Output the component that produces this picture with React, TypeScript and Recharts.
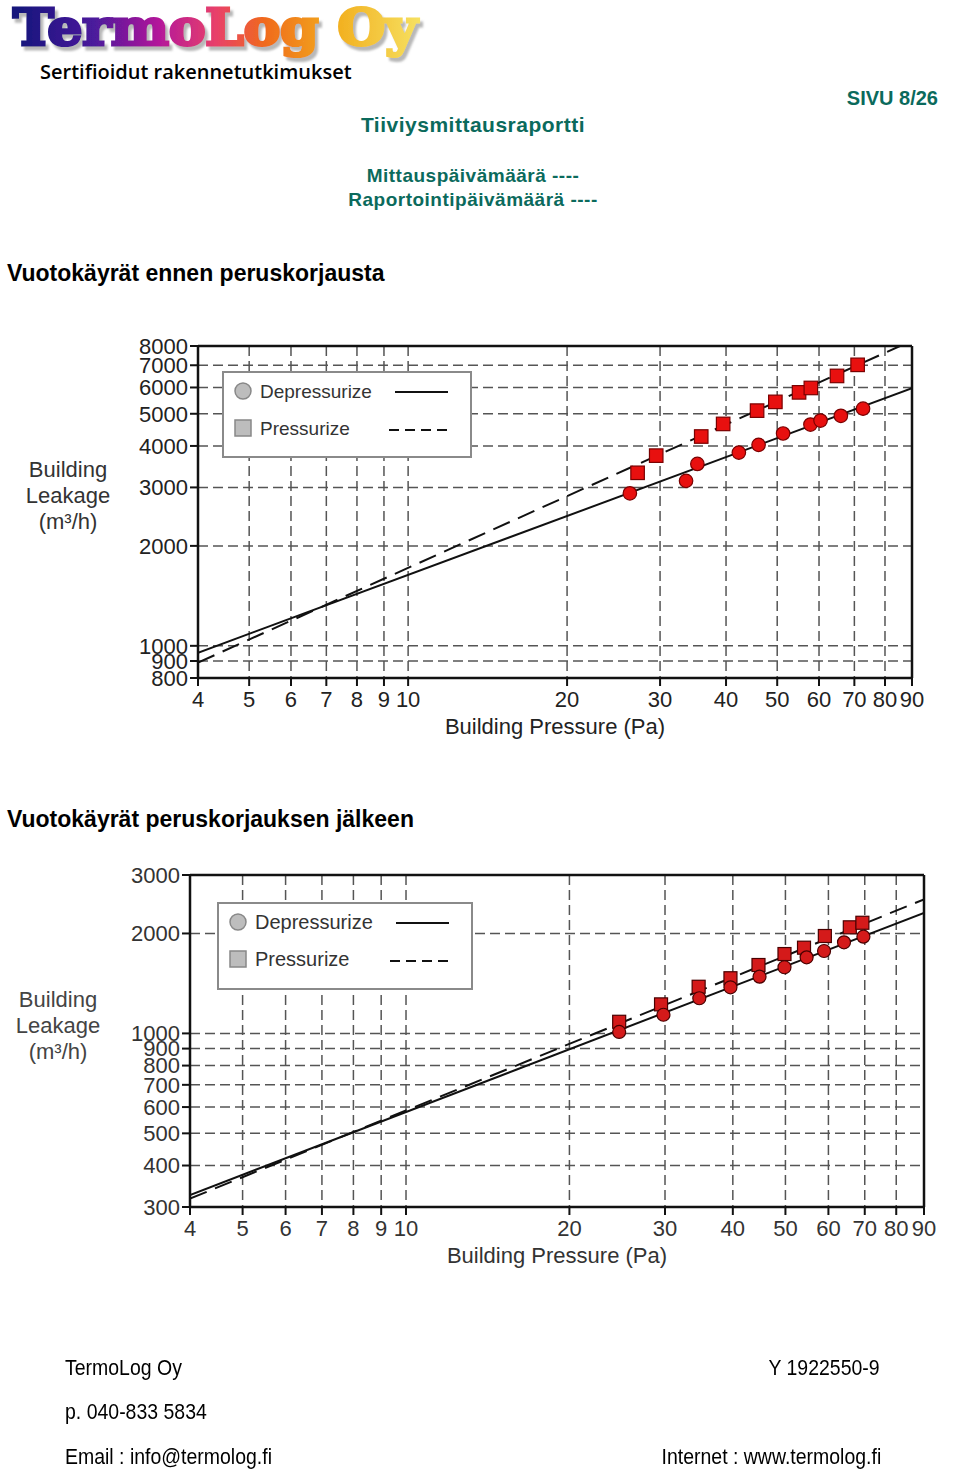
import React from "react"
import { ScatterChart, Scatter, XAxis, YAxis, CartesianGrid, ReferenceLine } from "recharts"

const FONT = "'Liberation Sans', Arial, sans-serif"
const TEAL = "#0b6a5c"

// x axis, both charts (Pa)
const pressureTicks = [4, 5, 6, 7, 8, 9, 10, 20, 30, 40, 50, 60, 70, 80, 90]

// chart 1: ennen peruskorjausta
const beforeFlowTicks = [800, 900, 1000, 2000, 3000, 4000, 5000, 6000, 7000, 8000]
const beforeDepPa = [26.3, 33.6, 35.3, 42.3, 46.1, 51.3, 57.8, 60.4, 66.0, 72.7]
const beforeDepFlow = [2880, 3140, 3530, 3820, 4030, 4360, 4640, 4770, 4930, 5180]
const beforePresPa = [27.2, 29.5, 35.9, 39.5, 45.8, 49.6, 55.0, 57.9, 64.9, 71.0]
const beforePresFlow = [3320, 3740, 4270, 4660, 5110, 5430, 5800, 5980, 6500, 7020]
const beforeDepFitPa = [4, 90]
const beforeDepFitFlow = [953, 5970]
const beforePresFitPa = [4, 85.4]
const beforePresFitFlow = [890, 8000]

// chart 2: peruskorjauksen jälkeen
const afterFlowTicks = [300, 400, 500, 600, 700, 800, 900, 1000, 2000, 3000]
const afterDepPa = [24.7, 29.8, 34.7, 39.6, 44.8, 49.8, 54.7, 58.9, 64.1, 69.6]
const afterDepFlow = [1010, 1138, 1276, 1377, 1482, 1582, 1695, 1771, 1881, 1956]
const afterPresPa = [24.7, 29.5, 34.6, 39.6, 44.6, 49.8, 54.1, 59.1, 65.7, 69.3]
const afterPresFlow = [1084, 1223, 1382, 1466, 1607, 1734, 1812, 1965, 2087, 2154]
const afterDepFitPa = [4, 90]
const afterDepFitFlow = [326, 2305]
const afterPresFitPa = [4, 90]
const afterPresFitFlow = [318, 2534]

const pts = (xs: number[], ys: number[]) => xs.map((x, i) => ({ x, y: ys[i] }))

function LeakChart({ top, marginLeft, marginRight, marginTop, marginBottom, yTicks, dep, pres, depFit, presFit, fill, edge, textColor, mark }: any) {
  const h = mark / 2
  const circle = (p: any) => <circle cx={p.cx} cy={p.cy} r={h} fill={fill} stroke={edge} strokeWidth={1.2} />
  const square = (p: any) => <rect x={p.cx - h} y={p.cy - h} width={mark} height={mark} fill={fill} stroke={edge} strokeWidth={1.2} />
  const noDot = () => <g />
  const yMin = yTicks[0]
  const yMax = yTicks[yTicks.length - 1]
  return (
    <div style={{ position: "absolute", left: 0, top, width: 960, height: 420 }}>
      <ScatterChart width={960} height={420} margin={{ top: marginTop, right: marginRight, bottom: marginBottom, left: marginLeft }}>
        <CartesianGrid stroke="#555" strokeWidth={1.5} strokeDasharray="10 5" />
        <XAxis
          dataKey="x" type="number" scale="log" domain={[4, 90]} ticks={pressureTicks} interval={0}
          allowDataOverflow height={60} tickSize={8} tickMargin={5}
          axisLine={{ stroke: "#111", strokeWidth: 2.5 }} tickLine={{ stroke: "#111", strokeWidth: 2 }}
          tick={{ fill: textColor, fontSize: 22, fontFamily: FONT }}
          label={{ value: "Building Pressure (Pa)", position: "insideBottom", offset: 4, fill: textColor, fontSize: 22, fontFamily: FONT }}
        />
        <YAxis
          dataKey="y" type="number" scale="log" domain={[yMin, yMax]} ticks={yTicks} interval={0}
          allowDataOverflow width={60} tickSize={8}
          axisLine={{ stroke: "#111", strokeWidth: 2.5 }} tickLine={{ stroke: "#111", strokeWidth: 2 }}
          tick={{ fill: textColor, fontSize: 22, fontFamily: FONT }}
        />
        <ReferenceLine x={90} stroke="#111" strokeWidth={2.5} />
        <ReferenceLine y={yMax} stroke="#111" strokeWidth={2.5} />
        <Scatter data={depFit} line={{ stroke: "#111", strokeWidth: 2 }} lineType="joint" shape={noDot} isAnimationActive={false} />
        <Scatter data={presFit} line={{ stroke: "#111", strokeWidth: 2, strokeDasharray: "18 9" }} lineType="joint" shape={noDot} isAnimationActive={false} />
        <Scatter data={pres} shape={square} isAnimationActive={false} />
        <Scatter data={dep} shape={circle} isAnimationActive={false} />
      </ScatterChart>
    </div>
  )
}

function Legend({ left, top, width, height, fontSize, textColor }: any) {
  return (
    <svg style={{ position: "absolute", left, top }} width={width} height={height}>
      <rect x={1} y={1} width={width - 2} height={height - 2} fill="#fff" stroke="#8a8a8a" strokeWidth={2} />
      <circle cx={21} cy={20} r={8} fill="#bdbdbd" stroke="#888" strokeWidth={1.5} />
      <text x={38} y={20} dominantBaseline="central" fontSize={fontSize} fontFamily={FONT} fill={textColor}>Depressurize</text>
      <line x1={width - 77} x2={width - 24} y1={21} y2={21} stroke="#111" strokeWidth={2} />
      <rect x={13} y={49} width={16} height={16} fill="#bdbdbd" stroke="#888" strokeWidth={1.5} />
      <text x={38} y={57} dominantBaseline="central" fontSize={fontSize} fontFamily={FONT} fill={textColor}>Pressurize</text>
      <line x1={width - 83} x2={width - 24} y1={59} y2={59} stroke="#111" strokeWidth={2} strokeDasharray="10 6" />
    </svg>
  )
}

function YTitle({ cx, top, color }: any) {
  return (
    <div style={{ position: "absolute", left: cx - 60, top, width: 120, textAlign: "center", fontSize: 22, lineHeight: "26px", fontFamily: FONT, color }}>
      Building<br />Leakage<br />(m³/h)
    </div>
  )
}

function T({ children, left, right, cy, size, bold, color, center, narrow, font, spacing }: any) {
  const s: any = {
    position: "absolute", top: cy - size / 2 - 1, fontSize: size, lineHeight: `${size}px`, whiteSpace: "nowrap",
    fontFamily: font || FONT, fontWeight: bold || "normal", color: color || "#000", letterSpacing: spacing || 0,
  }
  if (center !== undefined) { s.left = center - 300; s.width = 600; s.textAlign = "center" }
  else if (right !== undefined) { s.right = 960 - right; s.textAlign = "right" }
  else s.left = left
  if (narrow) { s.transform = "scaleX(0.885)"; s.transformOrigin = right !== undefined ? "right center" : "left center" }
  return <div style={s}>{children}</div>
}

export default function App() {
  return (
    <div style={{ position: "fixed", left: 0, top: 0, width: 960, height: 1470, background: "#fff", fontFamily: FONT, overflow: "hidden" }}>
      <svg style={{ position: "absolute", left: 0, top: 0 }} width={450} height={72}>
        <defs>
          <linearGradient id="logoGrad" x1="0" x2="1" y1="0" y2="0">
            <stop offset="0" stopColor="#12147a" />
            <stop offset="0.2" stopColor="#4b1a9c" />
            <stop offset="0.36" stopColor="#b4189a" />
            <stop offset="0.5" stopColor="#e8406a" />
            <stop offset="0.62" stopColor="#f06a1c" />
            <stop offset="0.8" stopColor="#f2b020" />
            <stop offset="1" stopColor="#f6e060" />
          </linearGradient>
          <filter id="logoShadow" x="-5%" y="-20%" width="115%" height="150%">
            <feDropShadow dx={3} dy={4} stdDeviation={1.2} floodColor="#888" floodOpacity={0.6} />
          </filter>
        </defs>
        <text x={13} y={45} fontSize={50} fontWeight="bold" fontFamily="'DejaVu Serif', serif" textLength={404} lengthAdjust="spacingAndGlyphs" fill="url(#logoGrad)" stroke="url(#logoGrad)" strokeWidth={3.2} filter="url(#logoShadow)">TermoLog Oy</text>
      </svg>
      <T left={40} cy={73} size={20} bold={600} font="'Open Sans', sans-serif">Sertifioidut rakennetutkimukset</T>
      <T right={938} cy={99} size={20} bold="bold" color={TEAL}>SIVU 8/26</T>
      <T center={473} cy={125} size={21} bold="bold" color={TEAL} spacing={0.5}>Tiiviysmittausraportti</T>
      <T center={473} cy={176} size={19} bold="bold" color={TEAL} spacing={0.5}>Mittauspäivämäärä ----</T>
      <T center={473} cy={200} size={19} bold="bold" color={TEAL} spacing={0.5}>Raportointipäivämäärä ----</T>

      <T left={7} cy={274} size={23} bold="bold">Vuotokäyrät ennen peruskorjausta</T>
      <LeakChart
        top={330} marginTop={16} marginBottom={12} marginLeft={138} marginRight={48}
        yTicks={beforeFlowTicks}
        dep={pts(beforeDepPa, beforeDepFlow)} pres={pts(beforePresPa, beforePresFlow)}
        depFit={pts(beforeDepFitPa, beforeDepFitFlow)} presFit={pts(beforePresFitPa, beforePresFitFlow)}
        fill="#e8100f" edge="#7a0000" textColor="#222" mark={13.5}
      />
      <Legend left={222} top={371} width={250} height={87} fontSize={19} textColor="#333" />
      <YTitle cx={68} top={457} color="#333" />

      <T left={7} cy={820} size={23} bold="bold">Vuotokäyrät peruskorjauksen jälkeen</T>
      <LeakChart
        top={860} marginTop={15} marginBottom={13} marginLeft={130} marginRight={36}
        yTicks={afterFlowTicks}
        dep={pts(afterDepPa, afterDepFlow)} pres={pts(afterPresPa, afterPresFlow)}
        depFit={pts(afterDepFitPa, afterDepFitFlow)} presFit={pts(afterPresFitPa, afterPresFitFlow)}
        fill="#d41a1a" edge="#4a0000" textColor="#333" mark={13}
      />
      <Legend left={217} top={902} width={256} height={88} fontSize={20} textColor="#333" />
      <YTitle cx={58} top={987} color="#444" />

      <T left={65} cy={1369} size={22} narrow>TermoLog Oy</T>
      <T right={880} cy={1369} size={22} narrow>Y 1922550-9</T>
      <T left={65} cy={1413} size={22} narrow>p. 040-833 5834</T>
      <T left={65} cy={1458} size={22} narrow>Email : info@termolog.fi</T>
      <T right={881} cy={1458} size={22} narrow>Internet : www.termolog.fi</T>
    </div>
  )
}
